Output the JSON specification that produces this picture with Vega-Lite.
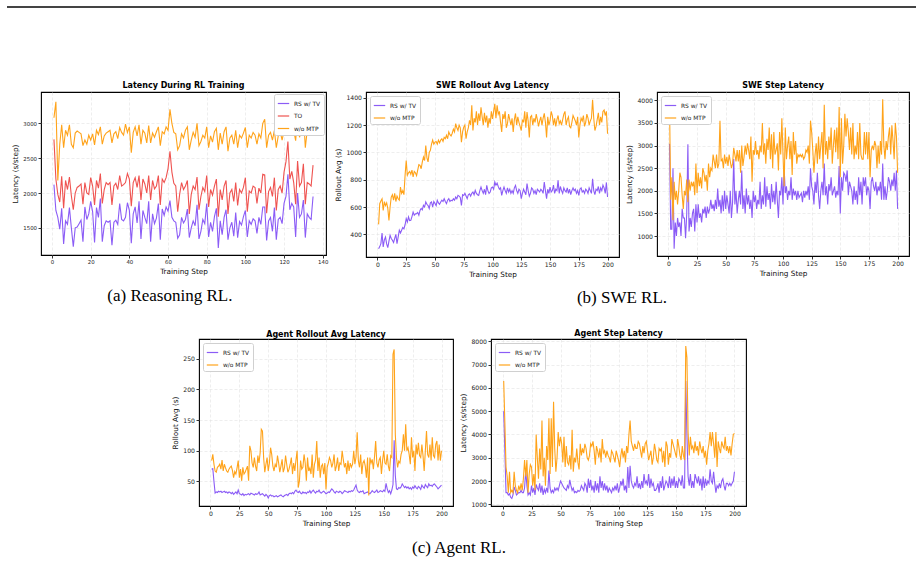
{
"$schema": "https://vega.github.io/schema/vega-lite/v6.json",
"padding": {"left": 6, "top": 6, "right": 6, "bottom": 4},
"background": "white",
"spacing": 73,
"resolve": {"scale": {"color": "independent"}},
"vconcat": [
 {"width": 909, "height": 2, "data": {"values": [{"line": "rule"}]}, "mark": {"type": "rule", "color": "#444444", "strokeWidth": 2}, "encoding": {"y": {"datum": 0.5, "type": "quantitative", "scale": {"domain": [0, 1]}, "axis": null}}, "view": {"stroke": null}},
 {"vconcat": [
   {"hconcat": [
     {"width": 1, "height": 1, "data": {"values": []}, "mark": "point", "view": {"stroke": null, "fill": "#ffffff"}},
     {"hconcat": [
       {"hconcat": [
         {"width": 285, "height": 163,
          "title": {"text": "Latency During RL Training"},
          "data": {"name": "reasoning"},
          "transform": [{"fold": ["rs", "to", "wo"], "as": ["series", "value"]}],
          "mark": {"type": "line", "strokeWidth": 1.1, "clip": true},
          "encoding": {
            "x": {"field": "step", "type": "quantitative", "scale": {"domain": [-5.7, 141.7], "nice": false, "zero": false}, "axis": {"values": [0, 20, 40, 60, 80, 100, 120, 140], "title": "Training Step", "labelFontSize": 5.4}},
            "y": {"field": "value", "type": "quantitative", "scale": {"domain": [1110, 3450], "nice": false, "zero": false}, "axis": {"values": [1500, 2000, 2500, 3000], "format": "d", "title": "Latency (s/step)", "labelFontSize": 5.4}},
            "color": {"field": "series", "type": "nominal", "scale": {"domain": ["rs", "to", "wo"], "range": ["#8b5cf6", "#ef5350", "#ffa31a"]}, "legend": {"orient": "top-right", "offset": 2, "title": null, "labelExpr": "datum.label == 'rs' ? 'RS w/ TV' : datum.label == 'to' ? 'TO' : 'w/o MTP'"}}
          }}
        ],
        "resolve": {"scale": {"color": "independent"}},
        "title": {"text": "(a) Reasoning RL.", "orient": "bottom", "anchor": "middle", "font": "Liberation Serif", "fontSize": 17, "fontWeight": "normal", "offset": 12}},
       {"hconcat": [
         {"width": 253, "height": 165,
          "title": {"text": "SWE Rollout Avg Latency"},
          "data": {"name": "swe_rollout"},
          "transform": [{"fold": ["rs", "wo"], "as": ["series", "value"]}],
          "mark": {"type": "line", "strokeWidth": 1.1, "clip": true},
          "encoding": {
            "x": {"field": "step", "type": "quantitative", "scale": {"domain": [-9.95, 209.95], "nice": false, "zero": false}, "axis": {"values": [0, 25, 50, 75, 100, 125, 150, 175, 200], "title": "Training Step"}},
            "y": {"field": "value", "type": "quantitative", "scale": {"domain": [234, 1442], "nice": false, "zero": false}, "axis": {"values": [400, 600, 800, 1000, 1200, 1400], "format": "d", "title": "Rollout Avg (s)"}},
            "color": {"field": "series", "type": "nominal", "scale": {"domain": ["rs", "wo"], "range": ["#8b5cf6", "#ffa31a"]}, "legend": {"orient": "top-left", "title": null, "labelExpr": "datum.label == 'rs' ? 'RS w/ TV' : 'w/o MTP'"}}
          }},
         {"width": 252, "height": 164,
          "title": {"text": "SWE Step Latency"},
          "data": {"name": "swe_step"},
          "transform": [{"fold": ["rs", "wo"], "as": ["series", "value"]}],
          "mark": {"type": "line", "strokeWidth": 1.1, "clip": true},
          "encoding": {
            "x": {"field": "step", "type": "quantitative", "scale": {"domain": [-9.95, 209.95], "nice": false, "zero": false}, "axis": {"values": [0, 25, 50, 75, 100, 125, 150, 175, 200], "title": "Training Step"}},
            "y": {"field": "value", "type": "quantitative", "scale": {"domain": [559, 4183], "nice": false, "zero": false}, "axis": {"values": [1000, 1500, 2000, 2500, 3000, 3500, 4000], "format": "d", "title": "Latency (s/step)"}},
            "color": {"field": "series", "type": "nominal", "scale": {"domain": ["rs", "wo"], "range": ["#8b5cf6", "#ffa31a"]}, "legend": {"orient": "top-left", "title": null, "labelExpr": "datum.label == 'rs' ? 'RS w/ TV' : 'w/o MTP'"}}
          }}
        ],
        "spacing": 38,
        "bounds": "flush",
        "resolve": {"scale": {"color": "independent"}},
        "title": {"text": "(b) SWE RL.", "orient": "bottom", "anchor": "middle", "font": "Liberation Serif", "fontSize": 17, "fontWeight": "normal", "offset": 12}}
      ],
      "spacing": 5,
      "resolve": {"scale": {"color": "independent"}}}
    ],
    "spacing": 3,
    "resolve": {"scale": {"color": "independent"}}},
   {"hconcat": [
     {"width": 1, "height": 1, "data": {"values": []}, "mark": "point", "view": {"stroke": null, "fill": "#ffffff"}},
     {"hconcat": [
       {"width": 254, "height": 167,
        "title": {"text": "Agent Rollout Avg Latency", "offset": 0},
        "data": {"name": "agent_rollout"},
        "transform": [{"fold": ["rs", "wo"], "as": ["series", "value"]}],
        "mark": {"type": "line", "strokeWidth": 1.1, "clip": true},
        "encoding": {
          "x": {"field": "step", "type": "quantitative", "scale": {"domain": [-9.95, 209.95], "nice": false, "zero": false}, "axis": {"values": [0, 25, 50, 75, 100, 125, 150, 175, 200], "title": "Training Step"}},
          "y": {"field": "value", "type": "quantitative", "scale": {"domain": [10, 282], "nice": false, "zero": false}, "axis": {"values": [50, 100, 150, 200, 250], "format": "d", "title": "Rollout Avg (s)"}},
          "color": {"field": "series", "type": "nominal", "scale": {"domain": ["rs", "wo"], "range": ["#8b5cf6", "#ffa31a"]}, "legend": {"orient": "top-left", "title": null, "labelExpr": "datum.label == 'rs' ? 'RS w/ TV' : 'w/o MTP'"}}
        }},
       {"width": 255, "height": 167,
        "title": {"text": "Agent Step Latency", "offset": 0},
        "data": {"name": "agent_step"},
        "transform": [{"fold": ["rs", "wo"], "as": ["series", "value"]}],
        "mark": {"type": "line", "strokeWidth": 1.1, "clip": true},
        "encoding": {
          "x": {"field": "step", "type": "quantitative", "scale": {"domain": [-9.95, 209.95], "nice": false, "zero": false}, "axis": {"values": [0, 25, 50, 75, 100, 125, 150, 175, 200], "title": "Training Step"}},
          "y": {"field": "value", "type": "quantitative", "scale": {"domain": [927, 8100], "nice": false, "zero": false}, "axis": {"values": [1000, 2000, 3000, 4000, 5000, 6000, 7000, 8000], "format": "d", "title": "Latency (s/step)"}},
          "color": {"field": "series", "type": "nominal", "scale": {"domain": ["rs", "wo"], "range": ["#8b5cf6", "#ffa31a"]}, "legend": {"orient": "top-left", "title": null, "labelExpr": "datum.label == 'rs' ? 'RS w/ TV' : 'w/o MTP'"}}
        }}
      ],
      "spacing": 38,
      "bounds": "flush",
      "resolve": {"scale": {"color": "independent"}},
      "title": {"text": "(c) Agent RL.", "orient": "bottom", "anchor": "middle", "font": "Liberation Serif", "fontSize": 17, "fontWeight": "normal", "offset": 13}}
    ],
    "spacing": 163,
    "resolve": {"scale": {"color": "independent"}}}
  ],
  "spacing": 22,
  "resolve": {"scale": {"color": "independent"}}}
],
"datasets": {
 "reasoning": [
  {"step":1,"rs":2120,"to":2770,"wo":3080},{"step":2,"rs":1750,"to":2200,"wo":3310},{"step":3,"rs":1650,"to":1980,"wo":2180},{"step":4,"rs":1480,"to":1870,"wo":2700},{"step":5,"rs":1780,"to":2240,"wo":2980},
  {"step":6,"rs":1270,"to":1780,"wo":2650},{"step":7,"rs":1600,"to":2180,"wo":2900},{"step":8,"rs":1550,"to":2050,"wo":2830},{"step":9,"rs":1790,"to":2230,"wo":2980},{"step":10,"rs":1500,"to":1960,"wo":2700},
  {"step":11,"rs":1230,"to":1760,"wo":2650},{"step":12,"rs":1500,"to":2000,"wo":2860},{"step":13,"rs":1510,"to":2080,"wo":2890},{"step":14,"rs":1560,"to":2100,"wo":2870},{"step":15,"rs":1610,"to":2130,"wo":2850},
  {"step":16,"rs":1300,"to":1840,"wo":2680},{"step":17,"rs":1800,"to":2150,"wo":2760},{"step":18,"rs":1620,"to":2000,"wo":2700},{"step":19,"rs":1700,"to":1980,"wo":2830},{"step":20,"rs":1880,"to":2220,"wo":2760},
  {"step":21,"rs":1730,"to":2100,"wo":2850},{"step":22,"rs":1290,"to":1830,"wo":2690},{"step":23,"rs":1790,"to":2180,"wo":2900},{"step":24,"rs":1650,"to":2070,"wo":2840},{"step":25,"rs":1920,"to":2280,"wo":2950},
  {"step":26,"rs":1300,"to":1850,"wo":2700},{"step":27,"rs":1530,"to":2050,"wo":2820},{"step":28,"rs":1600,"to":2150,"wo":2860},{"step":29,"rs":1580,"to":2120,"wo":2880},{"step":30,"rs":1600,"to":2150,"wo":2900},
  {"step":31,"rs":1250,"to":1830,"wo":2720},{"step":32,"rs":1580,"to":2100,"wo":2850},{"step":33,"rs":1610,"to":2140,"wo":2880},{"step":34,"rs":1550,"to":2050,"wo":2780},{"step":35,"rs":1850,"to":2250,"wo":2940},
  {"step":36,"rs":1620,"to":2100,"wo":2870},{"step":37,"rs":1600,"to":2120,"wo":2830},{"step":38,"rs":1650,"to":2150,"wo":2990},{"step":39,"rs":1860,"to":2280,"wo":2870},{"step":40,"rs":1750,"to":2200,"wo":2950},
  {"step":41,"rs":1280,"to":1810,"wo":2580},{"step":42,"rs":1700,"to":2150,"wo":2870},{"step":43,"rs":1800,"to":2220,"wo":2950},{"step":44,"rs":1570,"to":2080,"wo":2820},{"step":45,"rs":1880,"to":2250,"wo":2980},
  {"step":46,"rs":1340,"to":1900,"wo":2700},{"step":47,"rs":1750,"to":2200,"wo":2900},{"step":48,"rs":1650,"to":2130,"wo":2860},{"step":49,"rs":1560,"to":2000,"wo":2720},{"step":50,"rs":1880,"to":2250,"wo":2970},
  {"step":51,"rs":1300,"to":1900,"wo":2720},{"step":52,"rs":1700,"to":2180,"wo":2860},{"step":53,"rs":1560,"to":2060,"wo":2800},{"step":54,"rs":1640,"to":2100,"wo":2880},{"step":55,"rs":1850,"to":2250,"wo":2950},
  {"step":56,"rs":1330,"to":1830,"wo":2680},{"step":57,"rs":1770,"to":2200,"wo":2880},{"step":58,"rs":1680,"to":2150,"wo":2850},{"step":59,"rs":1800,"to":2220,"wo":2950},{"step":60,"rs":1740,"to":2350,"wo":2900},
  {"step":61,"rs":1890,"to":2600,"wo":3200},{"step":62,"rs":1650,"to":2300,"wo":3000},{"step":63,"rs":1600,"to":2140,"wo":2870},{"step":64,"rs":1580,"to":2100,"wo":2850},{"step":65,"rs":1350,"to":1730,"wo":2620},
  {"step":66,"rs":1400,"to":1980,"wo":2680},{"step":67,"rs":1650,"to":2150,"wo":2850},{"step":68,"rs":1570,"to":2050,"wo":2790},{"step":69,"rs":1620,"to":2100,"wo":2900},{"step":70,"rs":1770,"to":2180,"wo":2950},
  {"step":71,"rs":1360,"to":1700,"wo":2620},{"step":72,"rs":1500,"to":1980,"wo":2760},{"step":73,"rs":1600,"to":2100,"wo":2870},{"step":74,"rs":1530,"to":2050,"wo":2800},{"step":75,"rs":1830,"to":2230,"wo":3000},
  {"step":76,"rs":1340,"to":1760,"wo":2680},{"step":77,"rs":1450,"to":1950,"wo":2740},{"step":78,"rs":1620,"to":2080,"wo":2830},{"step":79,"rs":1560,"to":2020,"wo":2790},{"step":80,"rs":1850,"to":2250,"wo":2950},
  {"step":81,"rs":1370,"to":1800,"wo":2650},{"step":82,"rs":1580,"to":2050,"wo":2820},{"step":83,"rs":1450,"to":1970,"wo":2730},{"step":84,"rs":1660,"to":2100,"wo":2880},{"step":85,"rs":1780,"to":2200,"wo":2930},
  {"step":86,"rs":1210,"to":1660,"wo":2620},{"step":87,"rs":1600,"to":2050,"wo":2860},{"step":88,"rs":1400,"to":1900,"wo":2700},{"step":89,"rs":1650,"to":2100,"wo":2880},{"step":90,"rs":1760,"to":2180,"wo":2950},
  {"step":91,"rs":1330,"to":1700,"wo":2600},{"step":92,"rs":1500,"to":2000,"wo":2790},{"step":93,"rs":1580,"to":2050,"wo":2830},{"step":94,"rs":1380,"to":1880,"wo":2700},{"step":95,"rs":1720,"to":2150,"wo":2900},
  {"step":96,"rs":1360,"to":1820,"wo":2650},{"step":97,"rs":1590,"to":2050,"wo":2830},{"step":98,"rs":1540,"to":2000,"wo":2790},{"step":99,"rs":1660,"to":2080,"wo":2860},{"step":100,"rs":1750,"to":2220,"wo":2940},
  {"step":101,"rs":1370,"to":1730,"wo":2650},{"step":102,"rs":1600,"to":2030,"wo":2830},{"step":103,"rs":1550,"to":2000,"wo":2790},{"step":104,"rs":1630,"to":2100,"wo":2870},{"step":105,"rs":1600,"to":2080,"wo":2830},
  {"step":106,"rs":1420,"to":1850,"wo":2700},{"step":107,"rs":1650,"to":2070,"wo":2850},{"step":108,"rs":1550,"to":2000,"wo":2790},{"step":109,"rs":1800,"to":2270,"wo":3000},{"step":110,"rs":1800,"to":2260,"wo":3060},
  {"step":111,"rs":1320,"to":1710,"wo":2650},{"step":112,"rs":1600,"to":2020,"wo":2830},{"step":113,"rs":1650,"to":2080,"wo":2870},{"step":114,"rs":1450,"to":1950,"wo":2760},{"step":115,"rs":1790,"to":2220,"wo":2900},
  {"step":116,"rs":1330,"to":1750,"wo":2650},{"step":117,"rs":1620,"to":2050,"wo":2820},{"step":118,"rs":1650,"to":2100,"wo":2880},{"step":119,"rs":1560,"to":2000,"wo":2760},{"step":120,"rs":1850,"to":2300,"wo":2900},
  {"step":121,"rs":1950,"to":2450,"wo":3150},{"step":122,"rs":2270,"to":2740,"wo":3380},{"step":123,"rs":1760,"to":2200,"wo":3000},{"step":124,"rs":1850,"to":2310,"wo":3100},{"step":125,"rs":1800,"to":2150,"wo":2900},
  {"step":126,"rs":1370,"to":1840,"wo":2750},{"step":127,"rs":2000,"to":2460,"wo":3100},{"step":128,"rs":1650,"to":2100,"wo":2800},{"step":129,"rs":1700,"to":2150,"wo":2900},{"step":130,"rs":1900,"to":2420,"wo":3150},
  {"step":131,"rs":1360,"to":1840,"wo":2650},{"step":132,"rs":1700,"to":2150,"wo":2900},{"step":133,"rs":1650,"to":2130,"wo":2880},{"step":134,"rs":1620,"to":2100,"wo":2850},{"step":135,"rs":1950,"to":2400,"wo":3000}
 ],
 "swe_rollout": [
  {"step":1,"rs":295,"wo":473},{"step":2,"rs":310,"wo":624},{"step":3,"rs":332,"wo":644},{"step":4,"rs":410,"wo":660},{"step":5,"rs":307,"wo":575},{"step":6,"rs":360,"wo":640},{"step":7,"rs":380,"wo":610},{"step":8,"rs":330,"wo":630},{"step":9,"rs":302,"wo":590},{"step":10,"rs":350,"wo":502},
  {"step":11,"rs":393,"wo":600},{"step":12,"rs":370,"wo":673},{"step":13,"rs":356,"wo":690},{"step":14,"rs":340,"wo":650},{"step":15,"rs":370,"wo":700},{"step":16,"rs":400,"wo":640},{"step":17,"rs":332,"wo":680},{"step":18,"rs":380,"wo":660},{"step":19,"rs":430,"wo":650},{"step":20,"rs":410,"wo":746},
  {"step":21,"rs":430,"wo":700},{"step":22,"rs":450,"wo":720},{"step":23,"rs":440,"wo":690},{"step":24,"rs":470,"wo":830},{"step":25,"rs":515,"wo":940},{"step":26,"rs":490,"wo":832},{"step":27,"rs":527,"wo":850},{"step":28,"rs":500,"wo":860},{"step":29,"rs":502,"wo":840},{"step":30,"rs":530,"wo":870},
  {"step":31,"rs":563,"wo":820},{"step":32,"rs":540,"wo":860},{"step":33,"rs":550,"wo":850},{"step":34,"rs":551,"wo":830},{"step":35,"rs":560,"wo":870},{"step":36,"rs":540,"wo":910},{"step":37,"rs":575,"wo":905},{"step":38,"rs":590,"wo":880},{"step":39,"rs":580,"wo":930},{"step":40,"rs":612,"wo":966},
  {"step":41,"rs":600,"wo":940},{"step":42,"rs":637,"wo":1050},{"step":43,"rs":620,"wo":960},{"step":44,"rs":610,"wo":930},{"step":45,"rs":588,"wo":1000},{"step":46,"rs":630,"wo":1015},{"step":47,"rs":637,"wo":1060},{"step":48,"rs":600,"wo":1090},{"step":49,"rs":640,"wo":1060},{"step":50,"rs":625,"wo":1075},
  {"step":51,"rs":610,"wo":1080},{"step":52,"rs":649,"wo":1060},{"step":53,"rs":630,"wo":1090},{"step":54,"rs":620,"wo":1070},{"step":55,"rs":637,"wo":1090},{"step":56,"rs":650,"wo":1100},{"step":57,"rs":640,"wo":1080},{"step":58,"rs":661,"wo":1110},{"step":59,"rs":640,"wo":1100},{"step":60,"rs":625,"wo":1125},
  {"step":61,"rs":650,"wo":1100},{"step":62,"rs":661,"wo":1150},{"step":63,"rs":640,"wo":1130},{"step":64,"rs":650,"wo":1120},{"step":65,"rs":645,"wo":1140},{"step":66,"rs":660,"wo":1170},{"step":67,"rs":650,"wo":1150},{"step":68,"rs":673,"wo":1210},{"step":69,"rs":660,"wo":1180},{"step":70,"rs":685,"wo":1160},
  {"step":71,"rs":680,"wo":1200},{"step":72,"rs":670,"wo":1180},{"step":73,"rs":612,"wo":1075},{"step":74,"rs":690,"wo":1150},{"step":75,"rs":685,"wo":1185},{"step":76,"rs":700,"wo":1200},{"step":77,"rs":680,"wo":1100},{"step":78,"rs":661,"wo":1150},{"step":79,"rs":690,"wo":1180},{"step":80,"rs":697,"wo":1235},
  {"step":81,"rs":680,"wo":1200},{"step":82,"rs":700,"wo":1345},{"step":83,"rs":710,"wo":1160},{"step":84,"rs":690,"wo":1250},{"step":85,"rs":722,"wo":1220},{"step":86,"rs":700,"wo":1300},{"step":87,"rs":690,"wo":1200},{"step":88,"rs":685,"wo":1285},{"step":89,"rs":720,"wo":1230},{"step":90,"rs":746,"wo":1330},
  {"step":91,"rs":720,"wo":1260},{"step":92,"rs":700,"wo":1200},{"step":93,"rs":730,"wo":1290},{"step":94,"rs":690,"wo":1220},{"step":95,"rs":758,"wo":1270},{"step":96,"rs":720,"wo":1180},{"step":97,"rs":700,"wo":1250},{"step":98,"rs":710,"wo":1210},{"step":99,"rs":740,"wo":1300},{"step":100,"rs":746,"wo":1245},
  {"step":101,"rs":730,"wo":1300},{"step":102,"rs":783,"wo":1355},{"step":103,"rs":760,"wo":1250},{"step":104,"rs":775,"wo":1345},{"step":105,"rs":750,"wo":1280},{"step":106,"rs":730,"wo":1300},{"step":107,"rs":740,"wo":1220},{"step":108,"rs":685,"wo":1150},{"step":109,"rs":720,"wo":1280},{"step":110,"rs":746,"wo":1245},
  {"step":111,"rs":720,"wo":1300},{"step":112,"rs":700,"wo":1180},{"step":113,"rs":740,"wo":1210},{"step":114,"rs":710,"wo":1280},{"step":115,"rs":730,"wo":1240},{"step":116,"rs":700,"wo":1200},{"step":117,"rs":720,"wo":1250},{"step":118,"rs":700,"wo":1150},{"step":119,"rs":740,"wo":1240},{"step":120,"rs":758,"wo":1285},
  {"step":121,"rs":720,"wo":1200},{"step":122,"rs":700,"wo":1260},{"step":123,"rs":730,"wo":1220},{"step":124,"rs":720,"wo":1190},{"step":125,"rs":661,"wo":1160},{"step":126,"rs":700,"wo":1240},{"step":127,"rs":730,"wo":1220},{"step":128,"rs":710,"wo":1300},{"step":129,"rs":690,"wo":1180},{"step":130,"rs":771,"wo":1295},
  {"step":131,"rs":720,"wo":1230},{"step":132,"rs":680,"wo":1110},{"step":133,"rs":700,"wo":1260},{"step":134,"rs":740,"wo":1270},{"step":135,"rs":730,"wo":1200},{"step":136,"rs":700,"wo":1250},{"step":137,"rs":720,"wo":1220},{"step":138,"rs":690,"wo":1280},{"step":139,"rs":730,"wo":1240},{"step":140,"rs":720,"wo":1190},
  {"step":141,"rs":710,"wo":1230},{"step":142,"rs":730,"wo":1260},{"step":143,"rs":720,"wo":1200},{"step":144,"rs":700,"wo":1250},{"step":145,"rs":783,"wo":1285},{"step":146,"rs":720,"wo":1220},{"step":147,"rs":661,"wo":1110},{"step":148,"rs":730,"wo":1260},{"step":149,"rs":700,"wo":1200},{"step":150,"rs":746,"wo":1230},
  {"step":151,"rs":710,"wo":1300},{"step":152,"rs":720,"wo":1270},{"step":153,"rs":760,"wo":1200},{"step":154,"rs":700,"wo":1250},{"step":155,"rs":730,"wo":1190},{"step":156,"rs":720,"wo":1240},{"step":157,"rs":795,"wo":1270},{"step":158,"rs":700,"wo":1210},{"step":159,"rs":750,"wo":1230},{"step":160,"rs":720,"wo":1200},
  {"step":161,"rs":700,"wo":1240},{"step":162,"rs":740,"wo":1280},{"step":163,"rs":720,"wo":1300},{"step":164,"rs":710,"wo":1200},{"step":165,"rs":740,"wo":1240},{"step":166,"rs":700,"wo":1260},{"step":167,"rs":730,"wo":1190},{"step":168,"rs":690,"wo":1180},{"step":169,"rs":720,"wo":1220},{"step":170,"rs":740,"wo":1270},
  {"step":171,"rs":720,"wo":1250},{"step":172,"rs":730,"wo":1230},{"step":173,"rs":700,"wo":1200},{"step":174,"rs":720,"wo":1260},{"step":175,"rs":685,"wo":1110},{"step":176,"rs":730,"wo":1200},{"step":177,"rs":740,"wo":1250},{"step":178,"rs":710,"wo":1230},{"step":179,"rs":720,"wo":1270},{"step":180,"rs":700,"wo":1190},
  {"step":181,"rs":730,"wo":1220},{"step":182,"rs":720,"wo":1280},{"step":183,"rs":700,"wo":1250},{"step":184,"rs":740,"wo":1200},{"step":185,"rs":720,"wo":1230},{"step":186,"rs":700,"wo":1250},{"step":187,"rs":807,"wo":1385},{"step":188,"rs":720,"wo":1250},{"step":189,"rs":690,"wo":1160},{"step":190,"rs":730,"wo":1190},
  {"step":191,"rs":720,"wo":1240},{"step":192,"rs":750,"wo":1290},{"step":193,"rs":700,"wo":1200},{"step":194,"rs":740,"wo":1260},{"step":195,"rs":720,"wo":1220},{"step":196,"rs":760,"wo":1300},{"step":197,"rs":740,"wo":1310},{"step":198,"rs":700,"wo":1270},{"step":199,"rs":780,"wo":1300},{"step":200,"rs":673,"wo":1137}
 ],
 "swe_step": [
  {"step":1,"rs":3040,"wo":3890},{"step":2,"rs":1150,"wo":1800},{"step":3,"rs":1150,"wo":2300},{"step":4,"rs":2500,"wo":1350},{"step":5,"rs":720,"wo":2200},{"step":6,"rs":1300,"wo":1800},{"step":7,"rs":1000,"wo":2000},{"step":8,"rs":1400,"wo":1700},{"step":9,"rs":1200,"wo":2000},{"step":10,"rs":1300,"wo":2400},
  {"step":11,"rs":1000,"wo":2300},{"step":12,"rs":1600,"wo":1900},{"step":13,"rs":1400,"wo":1600},{"step":14,"rs":1400,"wo":2000},{"step":15,"rs":950,"wo":1900},{"step":16,"rs":1500,"wo":2250},{"step":17,"rs":3030,"wo":1750},{"step":18,"rs":1100,"wo":2250},{"step":19,"rs":1400,"wo":2000},{"step":20,"rs":1200,"wo":2200},
  {"step":21,"rs":1500,"wo":2100},{"step":22,"rs":1600,"wo":2200},{"step":23,"rs":1100,"wo":1900},{"step":24,"rs":1700,"wo":2600},{"step":25,"rs":1300,"wo":1950},{"step":26,"rs":1700,"wo":2400},{"step":27,"rs":1400,"wo":2100},{"step":28,"rs":1500,"wo":2300},{"step":29,"rs":1300,"wo":2050},{"step":30,"rs":1600,"wo":2500},
  {"step":31,"rs":1500,"wo":2400},{"step":32,"rs":1650,"wo":2200},{"step":33,"rs":1400,"wo":2350},{"step":34,"rs":1650,"wo":2000},{"step":35,"rs":1500,"wo":2600},{"step":36,"rs":1600,"wo":2300},{"step":37,"rs":1800,"wo":2500},{"step":38,"rs":1600,"wo":2450},{"step":39,"rs":1700,"wo":2800},{"step":40,"rs":1550,"wo":2650},
  {"step":41,"rs":1800,"wo":2500},{"step":42,"rs":1600,"wo":2800},{"step":43,"rs":2050,"wo":2500},{"step":44,"rs":1650,"wo":2600},{"step":45,"rs":1800,"wo":3550},{"step":46,"rs":1500,"wo":2650},{"step":47,"rs":1900,"wo":2700},{"step":48,"rs":1550,"wo":2500},{"step":49,"rs":2000,"wo":2800},{"step":50,"rs":1600,"wo":2600},
  {"step":51,"rs":1900,"wo":2750},{"step":52,"rs":1700,"wo":2550},{"step":53,"rs":1500,"wo":2800},{"step":54,"rs":2000,"wo":2650},{"step":55,"rs":1400,"wo":2500},{"step":56,"rs":1750,"wo":2600},{"step":57,"rs":2700,"wo":2950},{"step":58,"rs":1700,"wo":2800},{"step":59,"rs":2000,"wo":2650},{"step":60,"rs":1500,"wo":2900},
  {"step":61,"rs":1800,"wo":2650},{"step":62,"rs":2000,"wo":2900},{"step":63,"rs":1700,"wo":2400},{"step":64,"rs":2450,"wo":3000},{"step":65,"rs":1600,"wo":2550},{"step":66,"rs":1900,"wo":2750},{"step":67,"rs":1500,"wo":3000},{"step":68,"rs":2050,"wo":2800},{"step":69,"rs":1700,"wo":3050},{"step":70,"rs":1900,"wo":2900},
  {"step":71,"rs":1600,"wo":2700},{"step":72,"rs":1800,"wo":3200},{"step":73,"rs":1400,"wo":2200},{"step":74,"rs":2000,"wo":2900},{"step":75,"rs":1750,"wo":2800},{"step":76,"rs":1900,"wo":3100},{"step":77,"rs":1600,"wo":2800},{"step":78,"rs":1800,"wo":2900},{"step":79,"rs":1700,"wo":2700},{"step":80,"rs":2200,"wo":3000},
  {"step":81,"rs":1600,"wo":2850},{"step":82,"rs":1900,"wo":3500},{"step":83,"rs":1700,"wo":2800},{"step":84,"rs":2300,"wo":3050},{"step":85,"rs":1650,"wo":2600},{"step":86,"rs":2100,"wo":3150},{"step":87,"rs":1800,"wo":2900},{"step":88,"rs":1950,"wo":3400},{"step":89,"rs":1600,"wo":2700},{"step":90,"rs":2150,"wo":3250},
  {"step":91,"rs":1750,"wo":2500},{"step":92,"rs":2000,"wo":3300},{"step":93,"rs":1700,"wo":2800},{"step":94,"rs":2200,"wo":2900},{"step":95,"rs":1800,"wo":3050},{"step":96,"rs":1400,"wo":2450},{"step":97,"rs":2000,"wo":3300},{"step":98,"rs":1900,"wo":2800},{"step":99,"rs":2300,"wo":3600},{"step":100,"rs":1700,"wo":2800},
  {"step":101,"rs":2500,"wo":2100},{"step":102,"rs":1950,"wo":3400},{"step":103,"rs":2100,"wo":2700},{"step":104,"rs":1800,"wo":3000},{"step":105,"rs":2000,"wo":3200},{"step":106,"rs":1900,"wo":2700},{"step":107,"rs":2300,"wo":3100},{"step":108,"rs":1800,"wo":2350},{"step":109,"rs":2050,"wo":3300},{"step":110,"rs":1900,"wo":2800},
  {"step":111,"rs":2000,"wo":3100},{"step":112,"rs":1800,"wo":2600},{"step":113,"rs":2000,"wo":2800},{"step":114,"rs":1850,"wo":2750},{"step":115,"rs":1900,"wo":2800},{"step":116,"rs":1950,"wo":2750},{"step":117,"rs":1750,"wo":2800},{"step":118,"rs":2000,"wo":2700},{"step":119,"rs":1850,"wo":2750},{"step":120,"rs":2000,"wo":2900},
  {"step":121,"rs":1900,"wo":2850},{"step":122,"rs":2100,"wo":3000},{"step":123,"rs":1800,"wo":2600},{"step":124,"rs":2500,"wo":3550},{"step":125,"rs":2100,"wo":3300},{"step":126,"rs":2000,"wo":2900},{"step":127,"rs":1700,"wo":2400},{"step":128,"rs":2200,"wo":2800},{"step":129,"rs":1950,"wo":3050},{"step":130,"rs":2400,"wo":2600},
  {"step":131,"rs":1900,"wo":3200},{"step":132,"rs":1600,"wo":2700},{"step":133,"rs":2000,"wo":3000},{"step":134,"rs":2200,"wo":3300},{"step":135,"rs":1900,"wo":2500},{"step":136,"rs":2600,"wo":3900},{"step":137,"rs":1900,"wo":2800},{"step":138,"rs":2100,"wo":3100},{"step":139,"rs":1700,"wo":2700},{"step":140,"rs":2150,"wo":3200},
  {"step":141,"rs":2000,"wo":2900},{"step":142,"rs":2300,"wo":3400},{"step":143,"rs":1900,"wo":2600},{"step":144,"rs":2000,"wo":3000},{"step":145,"rs":2100,"wo":3350},{"step":146,"rs":1850,"wo":2850},{"step":147,"rs":2000,"wo":3400},{"step":148,"rs":1900,"wo":2700},{"step":149,"rs":2550,"wo":3850},{"step":150,"rs":1500,"wo":2300},
  {"step":151,"rs":2300,"wo":3600},{"step":152,"rs":2000,"wo":2600},{"step":153,"rs":2400,"wo":3000},{"step":154,"rs":2350,"wo":3700},{"step":155,"rs":2200,"wo":3200},{"step":156,"rs":2450,"wo":3600},{"step":157,"rs":1900,"wo":3300},{"step":158,"rs":2200,"wo":2900},{"step":159,"rs":2100,"wo":3400},{"step":160,"rs":2000,"wo":2800},
  {"step":161,"rs":1700,"wo":3500},{"step":162,"rs":2100,"wo":2700},{"step":163,"rs":1800,"wo":3000},{"step":164,"rs":2000,"wo":2800},{"step":165,"rs":1700,"wo":3300},{"step":166,"rs":2300,"wo":2700},{"step":167,"rs":1900,"wo":3500},{"step":168,"rs":2200,"wo":2800},{"step":169,"rs":1700,"wo":2700},{"step":170,"rs":2300,"wo":2700},
  {"step":171,"rs":2100,"wo":3300},{"step":172,"rs":2300,"wo":2800},{"step":173,"rs":1900,"wo":3300},{"step":174,"rs":2100,"wo":2700},{"step":175,"rs":2000,"wo":3300},{"step":176,"rs":1600,"wo":2300},{"step":177,"rs":2200,"wo":2900},{"step":178,"rs":2300,"wo":3000},{"step":179,"rs":2100,"wo":2900},{"step":180,"rs":2000,"wo":3100},
  {"step":181,"rs":2200,"wo":3000},{"step":182,"rs":1900,"wo":2500},{"step":183,"rs":2100,"wo":3000},{"step":184,"rs":2000,"wo":2600},{"step":185,"rs":2200,"wo":3100},{"step":186,"rs":1800,"wo":2800},{"step":187,"rs":2600,"wo":4020},{"step":188,"rs":1800,"wo":3000},{"step":189,"rs":2100,"wo":2700},{"step":190,"rs":1800,"wo":3100},
  {"step":191,"rs":2000,"wo":2900},{"step":192,"rs":2300,"wo":3200},{"step":193,"rs":2200,"wo":3400},{"step":194,"rs":2000,"wo":2800},{"step":195,"rs":2250,"wo":3450},{"step":196,"rs":2100,"wo":3100},{"step":197,"rs":2400,"wo":2700},{"step":198,"rs":2000,"wo":3500},{"step":199,"rs":2450,"wo":3200},{"step":200,"rs":1600,"wo":2400}
 ],
 "agent_rollout": [
  {"step":1,"rs":70,"wo":84},{"step":2,"rs":71,"wo":94},{"step":3,"rs":50,"wo":78},{"step":4,"rs":31,"wo":67},{"step":5,"rs":33,"wo":65},{"step":6,"rs":32,"wo":73},{"step":7,"rs":34,"wo":75},{"step":8,"rs":33,"wo":78},{"step":9,"rs":34,"wo":70},{"step":10,"rs":32,"wo":85},
  {"step":11,"rs":33,"wo":67},{"step":12,"rs":34,"wo":78},{"step":13,"rs":32,"wo":72},{"step":14,"rs":33,"wo":67},{"step":15,"rs":31,"wo":65},{"step":16,"rs":33,"wo":70},{"step":17,"rs":32,"wo":73},{"step":18,"rs":30,"wo":75},{"step":19,"rs":32,"wo":68},{"step":20,"rs":29,"wo":56},
  {"step":21,"rs":31,"wo":66},{"step":22,"rs":33,"wo":62},{"step":23,"rs":30,"wo":72},{"step":24,"rs":36,"wo":84},{"step":25,"rs":30,"wo":56},{"step":26,"rs":29,"wo":70},{"step":27,"rs":28,"wo":51},{"step":28,"rs":30,"wo":73},{"step":29,"rs":27,"wo":62},{"step":30,"rs":29,"wo":65},
  {"step":31,"rs":28,"wo":70},{"step":32,"rs":29,"wo":75},{"step":33,"rs":30,"wo":51},{"step":34,"rs":28,"wo":108},{"step":35,"rs":31,"wo":100},{"step":36,"rs":30,"wo":80},{"step":37,"rs":29,"wo":73},{"step":38,"rs":28,"wo":89},{"step":39,"rs":30,"wo":75},{"step":40,"rs":29,"wo":67},
  {"step":41,"rs":30,"wo":92},{"step":42,"rs":33,"wo":80},{"step":43,"rs":28,"wo":97},{"step":44,"rs":29,"wo":135},{"step":45,"rs":30,"wo":132},{"step":46,"rs":28,"wo":89},{"step":47,"rs":26,"wo":65},{"step":48,"rs":29,"wo":78},{"step":49,"rs":27,"wo":89},{"step":50,"rs":23,"wo":67},
  {"step":51,"rs":27,"wo":80},{"step":52,"rs":28,"wo":105},{"step":53,"rs":26,"wo":94},{"step":54,"rs":27,"wo":75},{"step":55,"rs":25,"wo":67},{"step":56,"rs":26,"wo":78},{"step":57,"rs":27,"wo":73},{"step":58,"rs":25,"wo":92},{"step":59,"rs":26,"wo":80},{"step":60,"rs":27,"wo":65},
  {"step":61,"rs":28,"wo":75},{"step":62,"rs":26,"wo":86},{"step":63,"rs":25,"wo":65},{"step":64,"rs":27,"wo":72},{"step":65,"rs":28,"wo":92},{"step":66,"rs":29,"wo":78},{"step":67,"rs":27,"wo":65},{"step":68,"rs":30,"wo":70},{"step":69,"rs":31,"wo":78},{"step":70,"rs":30,"wo":89},
  {"step":71,"rs":32,"wo":62},{"step":72,"rs":30,"wo":80},{"step":73,"rs":34,"wo":67},{"step":74,"rs":36,"wo":85},{"step":75,"rs":33,"wo":100},{"step":76,"rs":32,"wo":40},{"step":77,"rs":34,"wo":51},{"step":78,"rs":31,"wo":84},{"step":79,"rs":30,"wo":70},{"step":80,"rs":33,"wo":73},
  {"step":81,"rs":31,"wo":94},{"step":82,"rs":32,"wo":80},{"step":83,"rs":30,"wo":51},{"step":84,"rs":33,"wo":89},{"step":85,"rs":32,"wo":67},{"step":86,"rs":35,"wo":72},{"step":87,"rs":31,"wo":62},{"step":88,"rs":34,"wo":94},{"step":89,"rs":36,"wo":56},{"step":90,"rs":33,"wo":78},
  {"step":91,"rs":31,"wo":85},{"step":92,"rs":34,"wo":116},{"step":93,"rs":33,"wo":67},{"step":94,"rs":36,"wo":89},{"step":95,"rs":32,"wo":56},{"step":96,"rs":31,"wo":75},{"step":97,"rs":33,"wo":78},{"step":98,"rs":34,"wo":62},{"step":99,"rs":32,"wo":80},{"step":100,"rs":30,"wo":37},
  {"step":101,"rs":31,"wo":73},{"step":102,"rs":33,"wo":80},{"step":103,"rs":32,"wo":89},{"step":104,"rs":35,"wo":84},{"step":105,"rs":38,"wo":73},{"step":106,"rs":36,"wo":80},{"step":107,"rs":33,"wo":94},{"step":108,"rs":31,"wo":67},{"step":109,"rs":34,"wo":75},{"step":110,"rs":33,"wo":89},
  {"step":111,"rs":32,"wo":67},{"step":112,"rs":34,"wo":80},{"step":113,"rs":33,"wo":78},{"step":114,"rs":30,"wo":100},{"step":115,"rs":32,"wo":85},{"step":116,"rs":35,"wo":73},{"step":117,"rs":34,"wo":80},{"step":118,"rs":33,"wo":62},{"step":119,"rs":32,"wo":84},{"step":120,"rs":34,"wo":67},
  {"step":121,"rs":33,"wo":80},{"step":122,"rs":35,"wo":73},{"step":123,"rs":34,"wo":78},{"step":124,"rs":36,"wo":100},{"step":125,"rs":40,"wo":78},{"step":126,"rs":44,"wo":90},{"step":127,"rs":36,"wo":130},{"step":128,"rs":33,"wo":84},{"step":129,"rs":32,"wo":73},{"step":130,"rs":34,"wo":94},
  {"step":131,"rs":33,"wo":62},{"step":132,"rs":35,"wo":80},{"step":133,"rs":30,"wo":84},{"step":134,"rs":31,"wo":75},{"step":135,"rs":32,"wo":56},{"step":136,"rs":33,"wo":89},{"step":137,"rs":31,"wo":27},{"step":138,"rs":30,"wo":89},{"step":139,"rs":32,"wo":80},{"step":140,"rs":35,"wo":86},
  {"step":141,"rs":33,"wo":70},{"step":142,"rs":32,"wo":90},{"step":143,"rs":34,"wo":116},{"step":144,"rs":36,"wo":80},{"step":145,"rs":32,"wo":73},{"step":146,"rs":33,"wo":85},{"step":147,"rs":35,"wo":89},{"step":148,"rs":34,"wo":62},{"step":149,"rs":33,"wo":84},{"step":150,"rs":36,"wo":100},
  {"step":151,"rs":34,"wo":80},{"step":152,"rs":47,"wo":78},{"step":153,"rs":38,"wo":94},{"step":154,"rs":32,"wo":75},{"step":155,"rs":35,"wo":67},{"step":156,"rs":30,"wo":92},{"step":157,"rs":36,"wo":89},{"step":158,"rs":45,"wo":257},{"step":159,"rs":117,"wo":265},{"step":160,"rs":60,"wo":127},
  {"step":161,"rs":38,"wo":89},{"step":162,"rs":37,"wo":73},{"step":163,"rs":40,"wo":83},{"step":164,"rs":39,"wo":80},{"step":165,"rs":41,"wo":94},{"step":166,"rs":46,"wo":100},{"step":167,"rs":43,"wo":127},{"step":168,"rs":40,"wo":100},{"step":169,"rs":42,"wo":143},{"step":170,"rs":39,"wo":100},
  {"step":171,"rs":41,"wo":105},{"step":172,"rs":38,"wo":94},{"step":173,"rs":40,"wo":78},{"step":174,"rs":37,"wo":122},{"step":175,"rs":41,"wo":89},{"step":176,"rs":39,"wo":100},{"step":177,"rs":43,"wo":67},{"step":178,"rs":40,"wo":110},{"step":179,"rs":38,"wo":94},{"step":180,"rs":42,"wo":113},
  {"step":181,"rs":40,"wo":92},{"step":182,"rs":37,"wo":89},{"step":183,"rs":44,"wo":110},{"step":184,"rs":41,"wo":92},{"step":185,"rs":39,"wo":67},{"step":186,"rs":45,"wo":100},{"step":187,"rs":42,"wo":132},{"step":188,"rs":40,"wo":94},{"step":189,"rs":46,"wo":89},{"step":190,"rs":43,"wo":110},
  {"step":191,"rs":44,"wo":84},{"step":192,"rs":42,"wo":122},{"step":193,"rs":45,"wo":92},{"step":194,"rs":46,"wo":89},{"step":195,"rs":43,"wo":110},{"step":196,"rs":41,"wo":116},{"step":197,"rs":38,"wo":84},{"step":198,"rs":40,"wo":110},{"step":199,"rs":42,"wo":84},{"step":200,"rs":44,"wo":100}
 ],
 "agent_step": [
  {"step":1,"rs":5000,"wo":6300},{"step":2,"rs":3300,"wo":4500},{"step":3,"rs":1500,"wo":2600},{"step":4,"rs":1500,"wo":2200},{"step":5,"rs":1400,"wo":1500},{"step":6,"rs":1450,"wo":2400},{"step":7,"rs":1300,"wo":1500},{"step":8,"rs":1250,"wo":1600},{"step":9,"rs":1400,"wo":1500},{"step":10,"rs":1750,"wo":2400},
  {"step":11,"rs":1600,"wo":1800},{"step":12,"rs":1400,"wo":1600},{"step":13,"rs":1450,"wo":1500},{"step":14,"rs":1500,"wo":1800},{"step":15,"rs":1500,"wo":1600},{"step":16,"rs":1600,"wo":1900},{"step":17,"rs":1500,"wo":1600},{"step":18,"rs":1500,"wo":2100},{"step":19,"rs":1700,"wo":2900},{"step":20,"rs":2450,"wo":2200},
  {"step":21,"rs":1800,"wo":2900},{"step":22,"rs":1400,"wo":1500},{"step":23,"rs":1500,"wo":2300},{"step":24,"rs":1400,"wo":2700},{"step":25,"rs":1800,"wo":2600},{"step":26,"rs":1500,"wo":1800},{"step":27,"rs":1700,"wo":2300},{"step":28,"rs":1400,"wo":1600},{"step":29,"rs":1850,"wo":4000},{"step":30,"rs":1700,"wo":3000},
  {"step":31,"rs":1600,"wo":2100},{"step":32,"rs":1900,"wo":3400},{"step":33,"rs":1500,"wo":2500},{"step":34,"rs":1800,"wo":4600},{"step":35,"rs":1400,"wo":2200},{"step":36,"rs":1650,"wo":3000},{"step":37,"rs":1500,"wo":1800},{"step":38,"rs":1700,"wo":3500},{"step":39,"rs":1500,"wo":2900},{"step":40,"rs":2450,"wo":4700},
  {"step":41,"rs":1700,"wo":2300},{"step":42,"rs":1500,"wo":4700},{"step":43,"rs":1600,"wo":2600},{"step":44,"rs":1500,"wo":5400},{"step":45,"rs":1700,"wo":3400},{"step":46,"rs":1600,"wo":2400},{"step":47,"rs":1700,"wo":3000},{"step":48,"rs":1600,"wo":4100},{"step":49,"rs":1800,"wo":3500},{"step":50,"rs":2000,"wo":3900},
  {"step":51,"rs":1900,"wo":3600},{"step":52,"rs":1800,"wo":2800},{"step":53,"rs":1700,"wo":3900},{"step":54,"rs":1650,"wo":2600},{"step":55,"rs":1600,"wo":3500},{"step":56,"rs":1800,"wo":2800},{"step":57,"rs":1700,"wo":2700},{"step":58,"rs":2050,"wo":3100},{"step":59,"rs":1800,"wo":2500},{"step":60,"rs":1600,"wo":4200},
  {"step":61,"rs":1700,"wo":2400},{"step":62,"rs":1500,"wo":3000},{"step":63,"rs":1550,"wo":2800},{"step":64,"rs":1500,"wo":3400},{"step":65,"rs":1600,"wo":2800},{"step":66,"rs":1550,"wo":2500},{"step":67,"rs":1600,"wo":3600},{"step":68,"rs":1800,"wo":3100},{"step":69,"rs":1700,"wo":3400},{"step":70,"rs":1600,"wo":3200},
  {"step":71,"rs":1900,"wo":3600},{"step":72,"rs":1800,"wo":3400},{"step":73,"rs":1500,"wo":3000},{"step":74,"rs":2100,"wo":2900},{"step":75,"rs":1700,"wo":3100},{"step":76,"rs":2050,"wo":3600},{"step":77,"rs":1600,"wo":3500},{"step":78,"rs":1800,"wo":3700},{"step":79,"rs":1500,"wo":3300},{"step":80,"rs":2000,"wo":2700},
  {"step":81,"rs":1600,"wo":3500},{"step":82,"rs":1900,"wo":3300},{"step":83,"rs":1500,"wo":3000},{"step":84,"rs":2200,"wo":3400},{"step":85,"rs":1700,"wo":2800},{"step":86,"rs":2000,"wo":3800},{"step":87,"rs":1600,"wo":3200},{"step":88,"rs":1900,"wo":3300},{"step":89,"rs":1600,"wo":3000},{"step":90,"rs":1800,"wo":3300},
  {"step":91,"rs":1500,"wo":3100},{"step":92,"rs":1700,"wo":3000},{"step":93,"rs":1600,"wo":2800},{"step":94,"rs":1500,"wo":3300},{"step":95,"rs":1700,"wo":3200},{"step":96,"rs":1600,"wo":3000},{"step":97,"rs":1800,"wo":2800},{"step":98,"rs":1600,"wo":3300},{"step":99,"rs":1900,"wo":3100},{"step":100,"rs":1500,"wo":2900},
  {"step":101,"rs":1700,"wo":2600},{"step":102,"rs":2000,"wo":3100},{"step":103,"rs":1800,"wo":3400},{"step":104,"rs":2100,"wo":3000},{"step":105,"rs":1600,"wo":3300},{"step":106,"rs":1800,"wo":2800},{"step":107,"rs":1500,"wo":3500},{"step":108,"rs":2600,"wo":3200},{"step":109,"rs":1700,"wo":4000},{"step":110,"rs":2650,"wo":4600},
  {"step":111,"rs":2000,"wo":3700},{"step":112,"rs":1800,"wo":3500},{"step":113,"rs":1700,"wo":3300},{"step":114,"rs":1900,"wo":3600},{"step":115,"rs":1800,"wo":3400},{"step":116,"rs":2200,"wo":3400},{"step":117,"rs":1700,"wo":3700},{"step":118,"rs":1900,"wo":3600},{"step":119,"rs":1650,"wo":3300},{"step":120,"rs":2000,"wo":3000},
  {"step":121,"rs":1700,"wo":3500},{"step":122,"rs":2300,"wo":3200},{"step":123,"rs":1900,"wo":3600},{"step":124,"rs":2000,"wo":3700},{"step":125,"rs":1800,"wo":3300},{"step":126,"rs":2300,"wo":2900},{"step":127,"rs":1700,"wo":3100},{"step":128,"rs":2100,"wo":3300},{"step":129,"rs":1800,"wo":2700},{"step":130,"rs":1900,"wo":3000},
  {"step":131,"rs":1600,"wo":3600},{"step":132,"rs":1600,"wo":3300},{"step":133,"rs":1700,"wo":2900},{"step":134,"rs":1900,"wo":2800},{"step":135,"rs":1500,"wo":3400},{"step":136,"rs":2000,"wo":3300},{"step":137,"rs":1700,"wo":3400},{"step":138,"rs":2200,"wo":2800},{"step":139,"rs":1600,"wo":3300},{"step":140,"rs":1800,"wo":2600},
  {"step":141,"rs":2000,"wo":3700},{"step":142,"rs":1900,"wo":3500},{"step":143,"rs":1700,"wo":2700},{"step":144,"rs":2200,"wo":3200},{"step":145,"rs":1700,"wo":3000},{"step":146,"rs":2100,"wo":3800},{"step":147,"rs":1800,"wo":3600},{"step":148,"rs":2200,"wo":3400},{"step":149,"rs":1700,"wo":3200},{"step":150,"rs":2000,"wo":3000},
  {"step":151,"rs":1700,"wo":3800},{"step":152,"rs":2100,"wo":3500},{"step":153,"rs":2000,"wo":3100},{"step":154,"rs":1800,"wo":2900},{"step":155,"rs":2250,"wo":3500},{"step":156,"rs":1700,"wo":3100},{"step":157,"rs":1700,"wo":2900},{"step":158,"rs":6300,"wo":7800},{"step":159,"rs":4000,"wo":7300},{"step":160,"rs":2200,"wo":4100},
  {"step":161,"rs":1800,"wo":3100},{"step":162,"rs":2300,"wo":3900},{"step":163,"rs":1700,"wo":3400},{"step":164,"rs":2000,"wo":3500},{"step":165,"rs":1700,"wo":3200},{"step":166,"rs":2300,"wo":3700},{"step":167,"rs":2100,"wo":3300},{"step":168,"rs":1900,"wo":3500},{"step":169,"rs":2200,"wo":3100},{"step":170,"rs":1800,"wo":3700},
  {"step":171,"rs":2100,"wo":3400},{"step":172,"rs":1600,"wo":3200},{"step":173,"rs":2200,"wo":3500},{"step":174,"rs":1700,"wo":3000},{"step":175,"rs":2100,"wo":3300},{"step":176,"rs":1800,"wo":2700},{"step":177,"rs":2000,"wo":3300},{"step":178,"rs":1900,"wo":3600},{"step":179,"rs":2500,"wo":4100},{"step":180,"rs":2000,"wo":3500},
  {"step":181,"rs":1900,"wo":4100},{"step":182,"rs":2400,"wo":3600},{"step":183,"rs":1900,"wo":3000},{"step":184,"rs":1500,"wo":4100},{"step":185,"rs":1800,"wo":2600},{"step":186,"rs":1700,"wo":3700},{"step":187,"rs":1900,"wo":3400},{"step":188,"rs":1700,"wo":3200},{"step":189,"rs":2000,"wo":3700},{"step":190,"rs":2100,"wo":3500},
  {"step":191,"rs":1800,"wo":3400},{"step":192,"rs":1600,"wo":3900},{"step":193,"rs":1900,"wo":3300},{"step":194,"rs":1900,"wo":3500},{"step":195,"rs":1800,"wo":3200},{"step":196,"rs":1900,"wo":3500},{"step":197,"rs":1800,"wo":3100},{"step":198,"rs":1900,"wo":3600},{"step":199,"rs":2000,"wo":4000},{"step":200,"rs":2400,"wo":4050}
 ]
},
"config": {
 "font": "DejaVu Sans",
 "view": {"stroke": "#000000", "strokeWidth": 1.1},
 "axis": {"labelFontSize": 6.1, "labelColor": "#222222", "titleFontSize": 7.3, "titleFontWeight": "normal", "titleColor": "#111111", "tickColor": "#000000", "tickSize": 3, "tickWidth": 0.8, "domain": false, "grid": true, "gridColor": "#e2e2e2", "gridDash": [3, 2], "gridWidth": 0.6, "labelPadding": 1.5, "titlePadding": 3},
 "title": {"fontSize": 8, "fontWeight": "bold", "color": "#000000", "offset": 2},
 "legend": {"offset": 4, "padding": 3, "rowPadding": 2.5, "labelFontSize": 5.9, "labelColor": "#222222", "labelOffset": 4, "symbolType": "stroke", "symbolSize": 130, "symbolStrokeWidth": 1.2, "strokeColor": "#d0d0d0", "fillColor": "white", "cornerRadius": 2}
}
}
